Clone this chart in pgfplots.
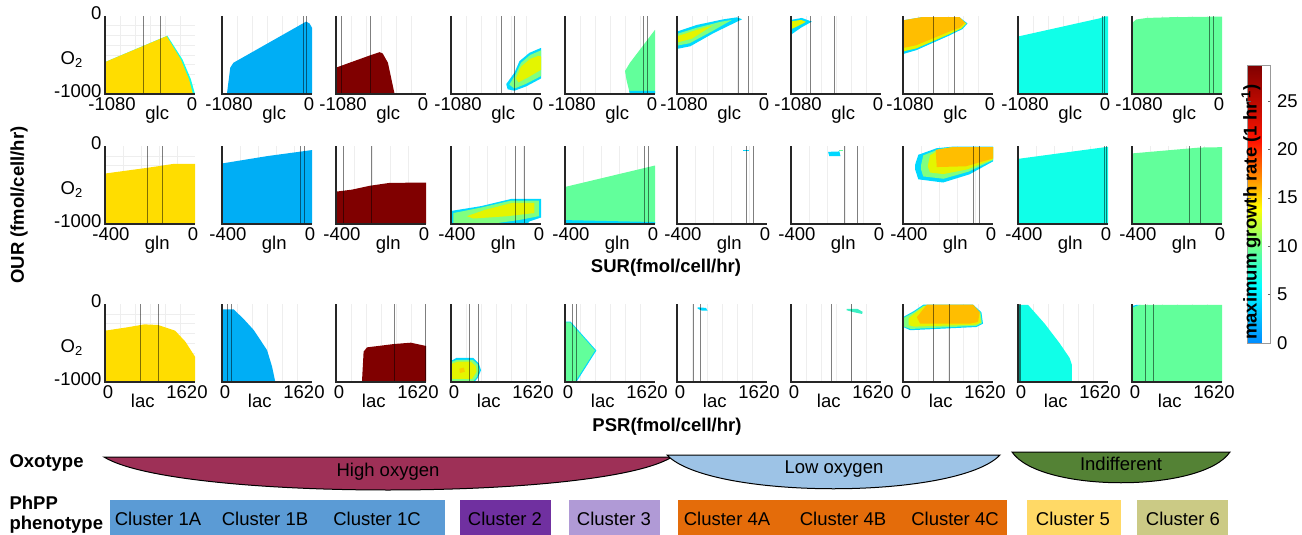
\documentclass[border=0pt]{standalone}
\usepackage{fontspec}
\setmainfont{Liberation Sans}
\usepackage{pgfplots}
\pgfplotsset{compat=1.18}

\definecolor{cY}{HTML}{FFDD00}
\definecolor{cB}{HTML}{00AEF5}
\definecolor{cR}{HTML}{800000}
\definecolor{cC}{HTML}{10FFE8}
\definecolor{cG}{HTML}{62FF9B}
\definecolor{cO}{HTML}{FFBE00}
\definecolor{gC}{HTML}{00D8FF}
\definecolor{gG}{HTML}{80FF80}
\definecolor{gY}{HTML}{E4F500}
\definecolor{hiO}{HTML}{9E3057}
\definecolor{loO}{HTML}{9DC3E6}
\definecolor{inO}{HTML}{548235}
\definecolor{k1}{HTML}{5B9BD5}
\definecolor{k2}{HTML}{7030A0}
\definecolor{k3}{HTML}{B09AD6}
\definecolor{k4}{HTML}{E46C0A}
\definecolor{k5}{HTML}{FFD966}
\definecolor{k6}{HTML}{CBCA85}

\newcommand{\fs}{\fontsize{18.5}{21}\selectfont}

\pgfplotsset{
  panel/.style={scale only axis, width=90pt, height=78pt, anchor=north west,
    axis x line*=bottom, axis y line*=left,
    axis line style={line width=1.3pt, black!85},
    ymin=-1000, ymax=0, ytick=\empty, tick style={draw=none},
    minor ytick={-875,-750,...,-125}, grid=minor,
    minor grid style={gray!13, line width=0.5pt},
    tick label style={font=\fs}, label style={font=\fs},
    xlabel style={at={(axis description cs:0.58,0)}, anchor=north, yshift=-9pt},
    after end axis/.code={\draw[line width=1.3pt, black!85]
      (rel axis cs:0,1) -- (rel axis cs:0,0) -- (rel axis cs:1,0);}},
  glc/.style={panel, xmin=-1080, xmax=0, xtick={-1080,0},
    xticklabels={\hspace*{14pt}-1080, 0\hspace*{6pt}},
    minor xtick={-900,-720,-540,-360,-180}, xlabel={glc}},
  gln/.style={panel, xmin=-400, xmax=0, xtick={-400,0},
    xticklabels={\hspace*{12pt}-400, 0\hspace*{4pt}},
    minor xtick={-320,-240,-160,-80}, xlabel={gln}},
  lac/.style={panel, xmin=0, xmax=1620, xtick={0,1620},
    xticklabels={\hspace*{6pt}0, 1620\hspace*{16pt}},
    minor xtick={270,540,810,1080,1350}, xlabel={lac},
    xlabel style={at={(axis description cs:0.42,0)}}},
  first/.style={ytick={-1000,0}, yticklabels={-1000,0}, ylabel={O\textsubscript{2}},
    yticklabel style={yshift=3pt},
    ylabel style={at={(axis description cs:-0.37,0.44)}, anchor=center, rotate=-90}},
  reg/.style={draw=none, fill=#1},
  vl/.style={draw=black, draw opacity=0.5, line width=0.9pt},
}

\begin{document}
\begin{tikzpicture}[x=1pt, y=1pt, font=\fs]
\path[use as bounding box] (0,0) rectangle (1302,-535);

% ---------------- row 1: glucose ----------------
\begin{axis}[glc, first, at={(105pt,-16pt)}]
\addplot[reg=cC] coordinates {(-1080,-1000) (-1080,-591) (-332,-253) (-150,-557) (-50,-810) (0,-1000)};
\addplot[reg=cY] coordinates {(-1080,-1000) (-1080,-591) (-340,-258) (-170,-557) (-72,-810) (-25,-1000)};
\addplot[vl] coordinates {(-620,-1000) (-620,0)};
\addplot[vl] coordinates {(-412,-1000) (-412,0)};
\end{axis}

\begin{axis}[glc, at={(222pt,-16pt)}]
\addplot[reg=cB] coordinates {(-1021,-1000) (-981,-662) (-942,-599) (-71,-72) (-30,-95) (0,-150) (0,-1000)};
\addplot[vl] coordinates {(-103,-1000) (-103,0)};
\addplot[vl] coordinates {(-64,-1000) (-64,0)};
\end{axis}

\begin{axis}[glc, at={(336pt,-16pt)}]
\addplot[reg=cR] coordinates {(-1080,-1000) (-1080,-662) (-675,-506) (-556,-464) (-520,-480) (-457,-599) (-377,-1000)};
\addplot[vl] coordinates {(-1012,-1000) (-1012,0)};
\addplot[vl] coordinates {(-667,-1000) (-667,0)};
\end{axis}

\begin{axis}[glc, at={(451pt,-16pt)}]
\addplot[reg=gC] coordinates {(-417,-873) (-318,-725) (-258,-578) (-139,-472) (0,-409) (0,-801) (-179,-903) (-318,-958) (-400,-940)};
\addplot[reg=gG] coordinates {(-380,-880) (-300,-740) (-240,-600) (-130,-500) (0,-440) (0,-770) (-180,-870) (-320,-930)};
\addplot[reg=gY] coordinates {(-300,-800) (-240,-650) (-130,-550) (-30,-510) (0,-520) (0,-690) (-160,-790) (-270,-850)};
\addplot[vl] coordinates {(-476,-1000) (-476,0)};
\addplot[vl] coordinates {(-318,-1000) (-318,0)};
\end{axis}

\begin{axis}[glc, at={(565pt,-16pt)}]
\addplot[reg=cG] coordinates {(0,-177) (-300,-599) (-360,-705) (-340,-832) (-300,-1000) (0,-1000)};
\addplot[reg=gC] coordinates {(-300,-1000) (-310,-960) (0,-960) (0,-1000)};
\addplot[vl] coordinates {(-140,-1000) (-140,0)};
\addplot[vl] coordinates {(-92,-1000) (-92,0)};
\end{axis}

\begin{axis}[glc, at={(677pt,-16pt)}]
\addplot[reg=gC] coordinates {(-1080,-199) (-840,-114) (-521,-42) (-360,-17) (-300,-42) (-641,-219) (-920,-388) (-1080,-422)};
\addplot[reg=gG] coordinates {(-1080,-230) (-840,-150) (-560,-75) (-420,-50) (-650,-190) (-930,-350) (-1080,-380)};
\addplot[reg=gY] coordinates {(-1080,-260) (-850,-180) (-650,-120) (-900,-290) (-1080,-340)};
\addplot[vl] coordinates {(-341,-1000) (-341,0)};
\addplot[vl] coordinates {(-221,-1000) (-221,0)};
\end{axis}

\begin{axis}[glc, at={(791pt,-16pt)}]
\addplot[reg=gC] coordinates {(-1080,-50) (-950,-25) (-830,-72) (-960,-150) (-1080,-240)};
\addplot[reg=gY] coordinates {(-1080,-70) (-960,-50) (-900,-75) (-1000,-130) (-1080,-170)};
\addplot[vl] coordinates {(-852,-1000) (-852,0)};
\addplot[vl] coordinates {(-564,-1000) (-564,0)};
\end{axis}

\begin{axis}[glc, at={(903pt,-16pt)}]
\addplot[reg=gC] coordinates {(-1080,-55) (-842,-13) (-405,-13) (-306,-96) (-366,-167) (-524,-250) (-920,-438) (-1080,-488)};
\addplot[reg=gY] coordinates {(-1080,-60) (-842,-18) (-410,-18) (-320,-96) (-380,-160) (-530,-235) (-920,-415) (-1080,-455)};
\addplot[reg=cO] coordinates {(-1080,-55) (-842,-13) (-405,-13) (-335,-85) (-400,-150) (-560,-215) (-920,-375) (-1080,-410)};
\addplot[vl] coordinates {(-711,-1000) (-711,0)};
\addplot[vl] coordinates {(-464,-1000) (-464,0)};
\end{axis}

\begin{axis}[glc, at={(1018pt,-16pt)}]
\addplot[reg=cC] coordinates {(-1080,-1000) (-1080,-263) (-100,-30) (-40,-5) (0,-5) (0,-1000)};
\addplot[vl] coordinates {(-72,-1000) (-72,0)};
\addplot[vl] coordinates {(-40,-1000) (-40,0)};
\end{axis}

\begin{axis}[glc, at={(1132pt,-16pt)}]
\addplot[reg=cG] coordinates {(-1080,-1000) (-1080,-90) (-1030,-45) (-900,-25) (-600,-15) (0,-8) (0,-1000)};
\addplot[vl] coordinates {(-150,-1000) (-150,0)};
\addplot[vl] coordinates {(-102,-1000) (-102,0)};
\end{axis}

% ---------------- row 2: glutamine ----------------
\begin{axis}[gln, first, at={(105pt,-146pt)}]
\addplot[reg=cY] coordinates {(-400,-1000) (-400,-353) (-213,-280) (-94,-229) (0,-229) (0,-1000)};
\addplot[vl] coordinates {(-213,-1000) (-213,0)};
\addplot[vl] coordinates {(-143,-1000) (-143,0)};
\end{axis}

\begin{axis}[gln, at={(222pt,-146pt)}]
\addplot[reg=cB] coordinates {(-400,-1000) (-400,-224) (-200,-130) (0,-52) (0,-1000)};
\addplot[vl] coordinates {(-51,-1000) (-51,0)};
\addplot[vl] coordinates {(-32,-1000) (-32,0)};
\end{axis}

\begin{axis}[gln, at={(336pt,-146pt)}]
\addplot[reg=cR] coordinates {(-400,-1000) (-400,-585) (-330,-560) (-250,-510) (-160,-472) (0,-470) (0,-1000)};
\addplot[vl] coordinates {(-365,-1000) (-365,0)};
\addplot[vl] coordinates {(-243,-1000) (-243,0)};
\end{axis}

\begin{axis}[gln, at={(451pt,-146pt)}]
\addplot[reg=gC] coordinates {(-400,-1000) (-400,-833) (-267,-771) (-133,-679) (0,-679) (0,-917) (-52,-967) (-60,-1000)};
\addplot[reg=gG] coordinates {(-390,-990) (-390,-860) (-267,-790) (-133,-700) (-10,-700) (-10,-900) (-100,-950) (-200,-990)};
\addplot[reg=gY] coordinates {(-330,-900) (-250,-820) (-130,-730) (-30,-730) (-30,-860) (-150,-900) (-300,-930)};
\addplot[vl] coordinates {(-114,-1000) (-114,0)};
\addplot[vl] coordinates {(-74,-1000) (-74,0)};
\end{axis}

\begin{axis}[gln, at={(565pt,-146pt)}]
\addplot[reg=cG] coordinates {(-400,-1000) (-400,-525) (0,-250) (0,-1000)};
\addplot[reg=gC] coordinates {(-400,-1000) (-400,-950) (0,-975) (0,-1000)};
\addplot[vl] coordinates {(-48,-1000) (-48,0)};
\addplot[vl] coordinates {(-30,-1000) (-30,0)};
\end{axis}

\begin{axis}[gln, at={(677pt,-146pt)}]
\addplot[reg=gC] coordinates {(-105,-45) (-78,-45) (-78,-65) (-105,-65)};
\addplot[vl] coordinates {(-92,-1000) (-92,0)};
\addplot[vl] coordinates {(-62,-1000) (-62,0)};
\end{axis}

\begin{axis}[gln, at={(791pt,-146pt)}]
\addplot[reg=gC] coordinates {(-235,-75) (-185,-70) (-180,-130) (-230,-130)};
\addplot[reg=cG] coordinates {(-185,-55) (-170,-55) (-170,-70) (-185,-70)};
\addplot[vl] coordinates {(-164,-1000) (-164,0)};
\addplot[vl] coordinates {(-103,-1000) (-103,0)};
\end{axis}

\begin{axis}[gln, at={(903pt,-146pt)}]
\addplot[reg=gC] coordinates {(-346,-238) (-332,-113) (-251,-29) (-178,-8) (0,-8) (0,-197) (-105,-364) (-222,-468) (-332,-427) (-346,-301)};
\addplot[reg=gG] coordinates {(-320,-250) (-310,-120) (-240,-40) (-178,-15) (0,-15) (0,-180) (-110,-330) (-220,-420) (-310,-390) (-320,-300)};
\addplot[reg=gY] coordinates {(-290,-260) (-280,-120) (-240,-50) (-178,-15) (0,-15) (0,-170) (-115,-300) (-220,-360) (-280,-340)};
\addplot[reg=cO] coordinates {(-255,-50) (-180,-15) (0,-15) (0,-160) (-120,-260) (-250,-270)};
\addplot[vl] coordinates {(-88,-1000) (-88,0)};
\addplot[vl] coordinates {(-61,-1000) (-61,0)};
\end{axis}

\begin{axis}[gln, at={(1018pt,-146pt)}]
\addplot[reg=cC] coordinates {(-400,-1000) (-400,-165) (0,-10) (0,-1000)};
\addplot[vl] coordinates {(-14,-1000) (-14,0)};
\addplot[vl] coordinates {(-7,-1000) (-7,0)};
\end{axis}

\begin{axis}[gln, at={(1132pt,-146pt)}]
\addplot[reg=cG] coordinates {(-400,-1000) (-400,-95) (-100,-20) (0,-15) (0,-1000)};
\addplot[vl] coordinates {(-144,-1000) (-144,0)};
\addplot[vl] coordinates {(-96,-1000) (-96,0)};
\end{axis}

% ---------------- row 3: lactate ----------------
\begin{axis}[lac, first, at={(105pt,-304pt)}]
\addplot[reg=cY] coordinates {(0,-1000) (0,-342) (401,-299) (708,-261) (955,-269) (1262,-342) (1447,-483) (1620,-675) (1620,-1000)};
\addplot[vl] coordinates {(634,-1000) (634,0)};
\addplot[vl] coordinates {(955,-1000) (955,0)};
\end{axis}

\begin{axis}[lac, at={(222pt,-304pt)}]
\addplot[reg=cB] coordinates {(0,-1000) (0,-68) (210,-68) (400,-200) (570,-333) (810,-590) (900,-800) (960,-1000)};
\addplot[vl] coordinates {(90,-1000) (90,0)};
\addplot[vl] coordinates {(162,-1000) (162,0)};
\end{axis}

\begin{axis}[lac, at={(336pt,-304pt)}]
\addplot[reg=cR] coordinates {(467,-1000) (497,-611) (558,-556) (1043,-513) (1347,-496) (1620,-538) (1620,-1000)};
\addplot[vl] coordinates {(1061,-1000) (1061,0)};
\addplot[vl] coordinates {(1602,-1000) (1602,0)};
\end{axis}

\begin{axis}[lac, at={(451pt,-304pt)}]
\addplot[reg=gC] coordinates {(0,-1000) (0,-730) (100,-690) (400,-690) (500,-760) (540,-850) (480,-950) (420,-1000)};
\addplot[reg=gG] coordinates {(0,-990) (0,-745) (110,-715) (390,-715) (480,-775) (510,-850) (460,-940) (400,-990)};
\addplot[reg=gY] coordinates {(0,-960) (0,-770) (120,-740) (360,-740) (450,-800) (460,-870) (380,-960)};
\addplot[reg=cO!70!gY] coordinates {(150,-830) (230,-815) (250,-870) (160,-885)};
\addplot[vl] coordinates {(339,-1000) (339,0)};
\addplot[vl] coordinates {(500,-1000) (500,0)};
\end{axis}

\begin{axis}[lac, at={(565pt,-304pt)}]
\addplot[reg=gC] coordinates {(0,-1000) (0,-225) (100,-225) (565,-596) (205,-1000)};
\addplot[reg=cG] coordinates {(0,-1000) (0,-235) (90,-235) (540,-596) (180,-1000)};
\addplot[vl] coordinates {(138,-1000) (138,0)};
\addplot[vl] coordinates {(210,-1000) (210,0)};
\end{axis}

\begin{axis}[lac, at={(677pt,-304pt)}]
\addplot[reg=gC] coordinates {(372,-43) (520,-50) (552,-86) (450,-86) (372,-60)};
\addplot[vl] coordinates {(300,-1000) (300,0)};
\addplot[vl] coordinates {(420,-1000) (420,0)};
\end{axis}

\begin{axis}[lac, at={(791pt,-304pt)}]
\addplot[reg=cG!60!gC] coordinates {(1002,-64) (1200,-64) (1290,-100) (1280,-128) (1100,-100) (1002,-80)};
\addplot[vl] coordinates {(732,-1000) (732,0)};
\addplot[vl] coordinates {(1092,-1000) (1092,0)};
\end{axis}

\begin{axis}[lac, at={(903pt,-304pt)}]
\addplot[reg=gC] coordinates {(0,-294) (0,-168) (190,-93) (368,-8) (1261,-8) (1411,-105) (1440,-252) (1322,-295) (130,-336)};
\addplot[reg=gG] coordinates {(20,-290) (20,-175) (200,-105) (375,-20) (1255,-20) (1395,-110) (1420,-245) (1315,-280) (140,-320)};
\addplot[reg=gY] coordinates {(100,-270) (100,-180) (220,-115) (390,-25) (1250,-25) (1380,-115) (1400,-235) (1310,-265) (200,-290)};
\addplot[reg=cO] coordinates {(250,-168) (429,-8) (1261,-8) (1381,-105) (1351,-231) (1202,-252) (309,-252)};
\addplot[vl] coordinates {(547,-1000) (547,0)};
\addplot[vl] coordinates {(827,-1000) (827,0)};
\end{axis}

\begin{axis}[lac, at={(1018pt,-304pt)}]
\addplot[reg=cC] coordinates {(0,-1000) (0,-10) (180,-10) (480,-252) (750,-504) (930,-693) (970,-780) (970,-1000)};
\addplot[vl] coordinates {(30,-1000) (30,0)};
\addplot[vl] coordinates {(49,-1000) (49,0)};
\end{axis}

\begin{axis}[lac, at={(1132pt,-304pt)}]
\addplot[reg=cG] coordinates {(0,-1000) (0,-50) (80,-25) (150,-10) (1620,-10) (1620,-1000)};
\addplot[reg=gC] coordinates {(0,-50) (0,-25) (80,-12) (150,-10) (80,-25)};
\addplot[vl] coordinates {(245,-1000) (245,0)};
\addplot[vl] coordinates {(378,-1000) (378,0)};
\end{axis}

% ---------------- colour bar ----------------
\begin{axis}[at={(1239pt,-65pt)}, anchor=north west, scale only axis, width=23pt, height=278pt,
  hide axis, xmin=0, xmax=1, ymin=0, ymax=1,
  colormap={growth}{rgb255(0cm)=(0,140,255) rgb255(6cm)=(0,255,255) rgb255(10cm)=(110,255,140)
    rgb255(14cm)=(255,255,0) rgb255(17cm)=(255,150,0) rgb255(21cm)=(255,20,0) rgb255(29cm)=(128,0,0)},
  point meta min=0, point meta max=28.7,
  colorbar,
  colorbar style={at={(parent axis.north west)}, anchor=north west, xshift=0pt, yshift=0pt,
    scale only axis, width=23pt, height=278pt,
    ytick={0,5,10,15,20,25}, yticklabels={0,5,10,15,20,25},
    yticklabel style={font=\fs, xshift=3pt}, axis line style={black!40},
    major tick length=3pt, tick style={black!60}}]
\addplot[draw=none] coordinates {(0.5,0.5)};
\end{axis}
\node[rotate=90, font=\bfseries\fs] at (1251,-212) {maximum growth rate (1 hr\textsuperscript{-1})};

% ---------------- axis titles ----------------
\node[rotate=90, font=\bfseries\fs] at (19,-205) {OUR (fmol/cell/hr)};
\node[font=\bfseries\fs] at (666,-268) {SUR(fmol/cell/hr)};
\node[font=\bfseries\fs] at (667,-427) {PSR(fmol/cell/hr)};

% ---------------- oxotype ----------------
\node[anchor=west, font=\bfseries\fs] at (6,-463) {Oxotype};
\draw[fill=hiO, line width=1pt] (104,-457) .. controls (175,-501) and (601,-501) .. (672,-457) -- cycle;
\draw[fill=loO, line width=1pt] (667,-455) .. controls (710,-500) and (957,-500) .. (1000,-455) -- cycle;
\draw[fill=inO, line width=1pt] (1012,-452) .. controls (1040,-493) and (1202,-493) .. (1230,-452) -- cycle;
\node at (388,-472) {High oxygen};
\node at (834,-469) {Low oxygen};
\node at (1121,-464) {Indifferent};

% ---------------- PhPP phenotype ----------------
\node[anchor=west, font=\bfseries\fs] at (6,-503) {PhPP};
\node[anchor=west, font=\bfseries\fs] at (6,-525) {phenotype};
\fill[k1] (110,-500) rectangle (445,-540);
\fill[k2] (460,-500) rectangle (551,-540);
\fill[k3] (569,-500) rectangle (660,-540);
\fill[k4] (678,-500) rectangle (1007,-540);
\fill[k5] (1027,-500) rectangle (1121,-540);
\fill[k6] (1137,-500) rectangle (1228,-540);
\node at (158,-519) {Cluster 1A};
\node at (265,-519) {Cluster 1B};
\node at (377,-519) {Cluster 1C};
\node at (505,-519) {Cluster 2};
\node at (614,-519) {Cluster 3};
\node at (727,-519) {Cluster 4A};
\node at (843,-519) {Cluster 4B};
\node at (955,-519) {Cluster 4C};
\node at (1073,-519) {Cluster 5};
\node at (1183,-519) {Cluster 6};
\end{tikzpicture}
\end{document}
